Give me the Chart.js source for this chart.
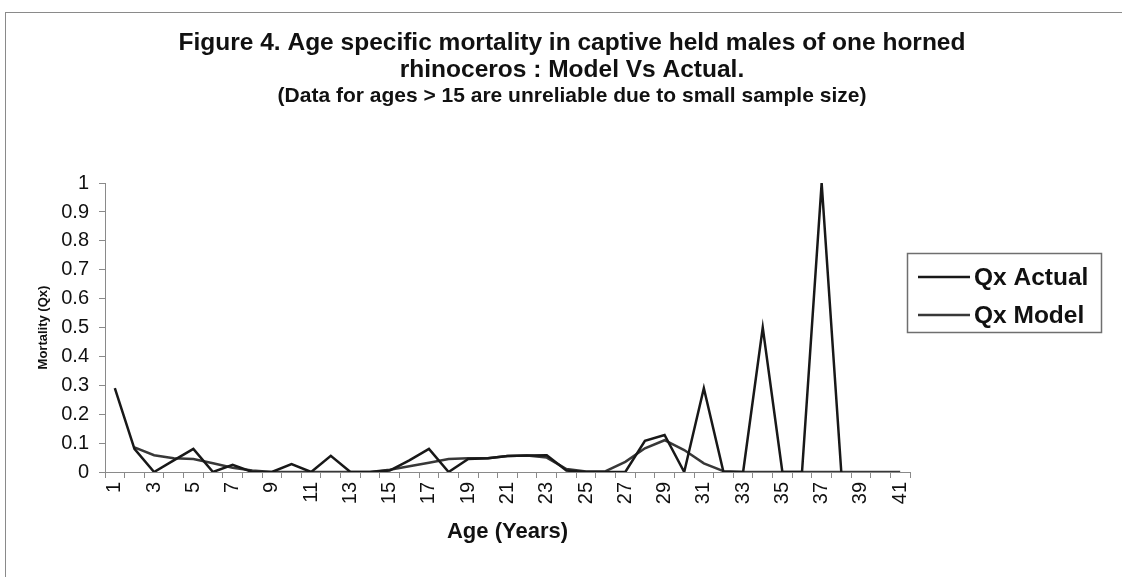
<!DOCTYPE html>
<html>
<head>
<meta charset="utf-8">
<title>Figure 4 - Age specific mortality</title>
<script src="https://cdn.jsdelivr.net/npm/chart.js@4.4.1/dist/chart.umd.min.js"></script>
<style>
  html, body { margin: 0; padding: 0; background: #fff; }
  #frame {
    position: absolute; left: 5px; top: 12px; width: 1117px; height: 565px;
    border-top: 1px solid #8a8a8a; border-left: 1px solid #8a8a8a;
  }
  #wrap { position: absolute; left: 0; top: 0; width: 1122px; height: 577px; }
</style>
</head>
<body>
<div id="frame"></div>
<div id="wrap"><canvas id="mortality-chart"></canvas></div>
<script>
// ages 1..41 (x categories)
const ages = ['1', '2', '3', '4', '5', '6', '7', '8', '9', '10',
              '11', '12', '13', '14', '15', '16', '17', '18', '19', '20',
              '21', '22', '23', '24', '25', '26', '27', '28', '29', '30',
              '31', '32', '33', '34', '35', '36', '37', '38', '39', '40', '41'];

// Qx
const qxActual = [0.29, 0.08, 0, 0.04, 0.08, 0, 0.025, 0, 0, 0.027,
                  0, 0.056, 0, 0, 0.005, 0.04, 0.08, 0, 0.045, 0.048,
                  0.055, 0.057, 0.058, 0.005, 0, 0, 0, 0.108, 0.128, 0,
                  0.29, 0, 0, 0.5, 0, 0, 1.0, 0, null, null, null];

const qxModel = [null, 0.085, 0.058, 0.048, 0.045, 0.03, 0.015, 0.005, 0, 0,
                 0, 0, 0, 0, 0.008, 0.02, 0.032, 0.045, 0.048, 0.048,
                 0.055, 0.057, 0.05, 0.01, 0.002, 0.003, 0.035, 0.082, 0.11, 0.076,
                 0.03, 0.003, 0, 0, 0, 0, 0, 0, 0, 0, 0];

const yTickLabels = ['0', '0.1', '0.2', '0.3', '0.4', '0.5', '0.6', '0.7', '0.8', '0.9', '1'];

const FONT = '"Liberation Sans", Arial, Helvetica, sans-serif';

// legend in a box, drawn by hand (Excel style)
const boxLegend = {
    id: 'boxLegend',
    afterDraw(chart) {
        const ctx = chart.ctx;
        ctx.save();
        ctx.strokeStyle = '#6f6f6f';
        ctx.lineWidth = 1.5;
        ctx.strokeRect(907.5, 253.5, 194, 79);
        chart.data.datasets.forEach((ds, i) => {
            const y = 277 + i * 38;
            ctx.strokeStyle = ds.borderColor;
            ctx.lineWidth = ds.borderWidth;
            ctx.beginPath();
            ctx.moveTo(918, y);
            ctx.lineTo(970, y);
            ctx.stroke();
            ctx.fillStyle = '#111';
            ctx.font = 'bold 24.5px ' + FONT;
            ctx.textBaseline = 'middle';
            ctx.fillText(ds.label, 974, y + 1);
        });
        ctx.restore();
    }
};

const ctx = document.getElementById('mortality-chart').getContext('2d');
window.mortalityChart = new Chart(ctx, {
    type: 'line',
    data: {
        labels: ages,
        datasets: [{
            label: 'Qx Actual',
            data: qxActual,
            borderColor: '#181818',
            borderWidth: 2.5,
            pointRadius: 0,
            tension: 0,
            spanGaps: false
        }, {
            label: 'Qx Model',
            data: qxModel,
            borderColor: '#383838',
            borderWidth: 2.5,
            pointRadius: 0,
            tension: 0,
            spanGaps: false
        }]
    },
    options: {
        responsive: true,
        maintainAspectRatio: false,
        animation: false,
        layout: { padding: { left: 22, right: 0, top: 0, bottom: 0 } },
        plugins: {
            legend: { display: false },
            tooltip: { enabled: false },
            title: {
                display: true,
                text: ['Figure 4. Age specific mortality in captive held males of one horned',
                       'rhinoceros : Model Vs Actual.'],
                color: '#111',
                font: { family: FONT, size: 24.5, weight: 'bold', lineHeight: 1.1 },
                padding: { top: 30, bottom: 0 }
            },
            subtitle: {
                display: true,
                text: '(Data for ages > 15 are unreliable due to small sample size)',
                color: '#111',
                font: { family: FONT, size: 21, weight: 'bold', lineHeight: 1.2 },
                padding: { top: 0, bottom: 74 }
            }
        },
        scales: {
            x: {
                offset: true,
                grid: { offset: true, drawOnChartArea: false, tickLength: 6, color: '#8a8a8a' },
                border: { color: '#8a8a8a', width: 1 },
                ticks: {
                    autoSkip: false,
                    maxRotation: 90,
                    minRotation: 90,
                    padding: 4,
                    color: '#111',
                    font: { family: FONT, size: 20 },
                    callback: function (value, index) {
                        return index % 2 === 0 ? ages[index] : '';
                    }
                },
                title: {
                    display: true,
                    text: 'Age (Years)',
                    color: '#111',
                    font: { family: FONT, size: 22, weight: 'bold' },
                    padding: { top: 0, bottom: 32 }
                },
                afterFit: function (scale) { scale.height = 105; }
            },
            y: {
                min: 0,
                max: 1,
                grid: { drawOnChartArea: false, tickLength: 6, color: '#8a8a8a' },
                border: { color: '#8a8a8a', width: 1 },
                ticks: {
                    stepSize: 0.1,
                    padding: 10,
                    color: '#111',
                    font: { family: FONT, size: 20 },
                    callback: function (value, index) { return yTickLabels[index]; }
                },
                title: {
                    display: true,
                    text: 'Mortality (Qx)',
                    color: '#111',
                    font: { family: FONT, size: 13, weight: 'bold' },
                    padding: { top: 14, bottom: 0 }
                },
                afterFit: function (scale) { scale.width = 83; }
            },
            // empty axis on the right, only keeps room for the legend box
            yr: {
                position: 'right',
                display: true,
                grid: { display: false },
                border: { display: false },
                ticks: { display: false },
                afterFit: function (scale) { scale.width = 212; }
            }
        }
    },
    plugins: [boxLegend]
});
</script>
</body>
</html>
